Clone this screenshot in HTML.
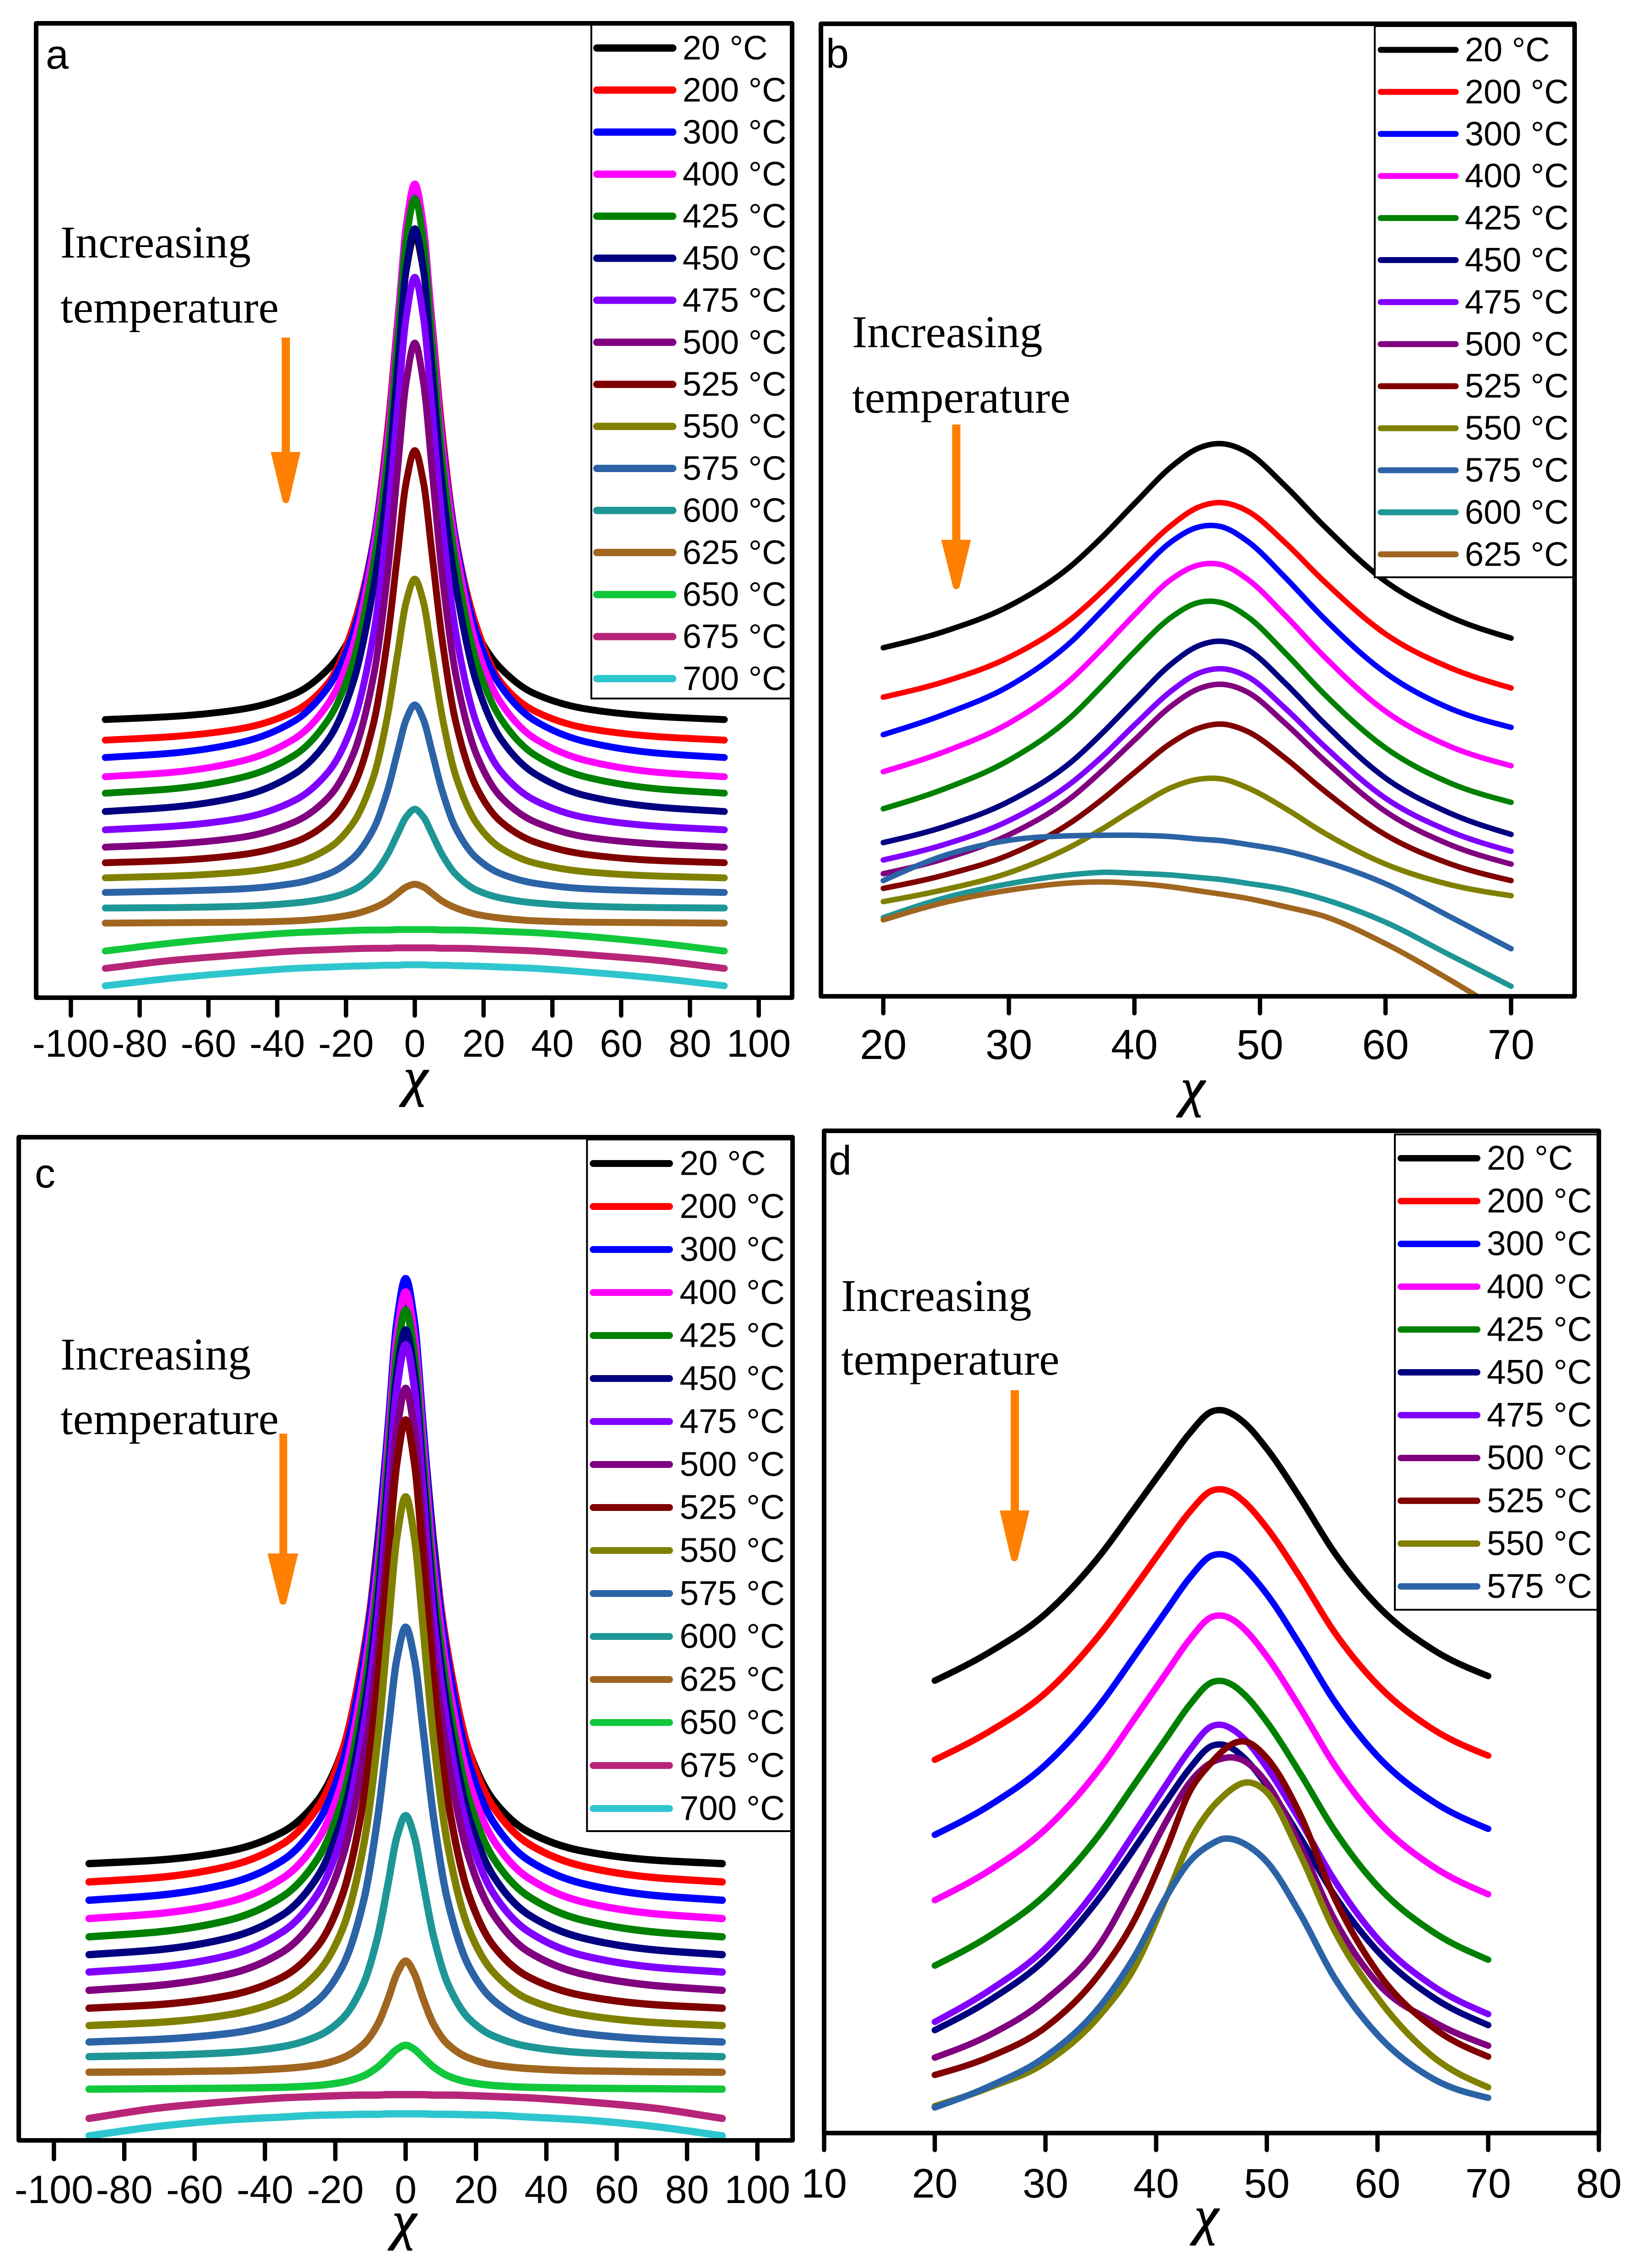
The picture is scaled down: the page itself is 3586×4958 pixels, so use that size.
<!DOCTYPE html>
<html lang="en">
<head>
<meta charset="utf-8">
<title>Rocking curves at increasing temperature</title>
<style>
html,body{margin:0;padding:0;background:#fff;}
svg{display:block;}
text{font-family:"Liberation Sans",sans-serif;fill:#000;}
.note{font-family:"Liberation Serif",serif;font-size:100px;}
.chi{font-family:"Liberation Serif",serif;font-style:italic;font-size:118px;text-anchor:middle;stroke:#000;stroke-width:2px;}
.letter{font-size:90px;}
</style>
</head>
<body>
<svg id="figure" xmlns="http://www.w3.org/2000/svg" width="3586" height="4958" viewBox="0 0 3586 4958">
  <rect x="0" y="0" width="3586" height="4958" fill="#fff"/>
  <g id="panel-a"></g>
  <g id="panel-b"></g>
  <g id="panel-c"></g>
  <g id="panel-d"></g>
  <g>
    <text class="letter" x="100" y="150">a</text>
    <text class="note" x="132" y="563">Increasing</text>
    <text class="note" x="132" y="705">temperature</text>
    <path fill="#ff8000" d="M616 738H634V988H657L632 1096Q625 1104 618 1096L592 988H616Z"/>
    <text class="chi" x="909" y="2394">χ</text>
  </g>
  <g>
    <text class="letter" x="1806" y="148">b</text>
    <text class="note" x="1863" y="759">Increasing</text>
    <text class="note" x="1863" y="902">temperature</text>
    <path fill="#ff8000" d="M2082 928H2100V1180H2123L2098 1284Q2091 1292 2084 1284L2058 1180H2082Z"/>
    <text class="chi" x="2608" y="2417">χ</text>
  </g>
  <g>
    <text class="letter" x="76" y="2596">c</text>
    <text class="note" x="132" y="2994">Increasing</text>
    <text class="note" x="132" y="3135">temperature</text>
    <path fill="#ff8000" d="M611 3134H628V3396H652L626 3504Q619 3512 612 3504L585 3396H611Z"/>
    <text class="chi" x="884" y="4894">χ</text>
  </g>
  <g>
    <text class="letter" x="1812" y="2568">d</text>
    <text class="note" x="1839" y="2866">Increasing</text>
    <text class="note" x="1839" y="3005">temperature</text>
    <path fill="#ff8000" d="M2210 3039H2228V3302H2251L2225 3409Q2218 3417 2211 3409L2186 3302H2210Z"/>
    <text class="chi" x="2638" y="4883">χ</text>
  </g>
</svg>
<script>
/* Shared categories and colours */
const temperatureLabels = ["20 °C","200 °C","300 °C","400 °C","425 °C","450 °C","475 °C","500 °C","525 °C","550 °C","575 °C","600 °C","625 °C","650 °C","675 °C","700 °C"];
const seriesColors = ["#000000","#ff0000","#0000ff","#ff00ff","#008000","#000080","#8000ff","#800080","#800000","#808000","#2b63a6","#1f9696","#a0661f","#11c83c","#b72579","#2ec6ce"];

/* Tick labels */
const aTicks = [-100,-80,-60,-40,-20,0,20,40,60,80,100];
const bTicks = [20,30,40,50,60,70];
const cTicks = [-100,-80,-60,-40,-20,0,20,40,60,80,100];
const dTicks = [10,20,30,40,50,60,70,80];

/* Panel a: chi positions and intensities (a.u.) */
const aChi = [-90,-70,-50,-35,-25,-18,-12,-8,-5,-2.5,0,2.5,5,8,12,18,25,35,50,70,90];
const a20  = [60.8,61.5,63.1,66.4,72.0,80.0,97.0,119.6,141.5,159.0,166.7,159.0,141.5,119.6,97.0,80.0,72.0,66.4,63.1,61.5,60.8];
const a200 = [56.3,57.1,58.9,62.6,69.0,81.0,100.0,123.5,147.9,167.7,176.5,167.7,147.9,123.5,100.0,81.0,69.0,62.6,58.9,57.1,56.3];
const a300 = [52.5,53.5,55.9,60.5,68.1,79.5,99.5,121.8,147.1,168.3,177.0,168.3,147.1,121.8,99.5,79.5,68.1,60.5,55.9,53.5,52.5];
const a400 = [48.3,49.3,51.8,56.6,64.5,76.8,98.2,120.9,146.8,168.8,177.9,168.8,146.8,120.9,98.2,76.8,64.5,56.6,51.8,49.3,48.3];
const a425 = [44.7,45.7,48.2,53.0,61.0,73.3,94.8,117.5,143.5,165.6,174.7,165.6,143.5,117.5,94.8,73.3,61.0,53.0,48.2,45.7,44.7];
const a450 = [40.7,41.7,44.1,48.9,56.6,68.7,89.7,112.0,137.5,159.2,168.1,159.2,137.5,112.0,89.7,68.7,56.6,48.9,44.1,41.7,40.7];
const a475 = [36.7,37.5,39.3,43.1,49.5,59.9,79.5,103.7,128.7,148.7,157.5,148.7,128.7,103.7,79.5,59.9,49.5,43.1,39.3,37.5,36.7];
const a500 = [32.9,33.6,35.1,38.4,43.9,53.0,70.3,92.2,115.6,134.6,143.1,134.6,115.6,92.2,70.3,53.0,43.9,38.4,35.1,33.6,32.9];
const a525 = [29.5,30.0,31.3,34.0,38.5,45.9,60.0,78.0,97.1,112.7,119.6,112.7,97.1,78.0,60.0,45.9,38.5,34.0,31.3,30.0,29.5];
const a550 = [26.2,26.6,27.5,29.4,32.7,38.1,48.3,61.3,75.2,86.5,91.5,86.5,75.2,61.3,48.3,38.1,32.7,29.4,27.5,26.6,26.2];
const a575 = [23.0,23.3,23.8,25.0,27.1,30.5,36.9,45.1,53.8,60.8,64.0,60.8,53.8,45.1,36.9,30.5,27.1,25.0,23.8,23.3,23.0];
const a600 = [19.6,19.7,20.0,20.7,21.8,23.5,26.9,31.2,35.8,39.5,41.2,39.5,35.8,31.2,26.9,23.5,21.8,20.7,20.0,19.7,19.6];
const a625 = [16.3,16.4,16.5,16.8,17.4,18.2,19.6,21.1,22.8,24.2,24.8,24.2,22.8,21.1,19.6,18.2,17.4,16.8,16.5,16.4,16.3];
const a650 = [10.2,12.0,13.4,14.2,14.5,14.7,14.8,14.8,14.9,14.9,14.9,14.9,14.9,14.8,14.8,14.7,14.5,14.2,13.4,12.0,10.2];
const a675 = [6.4,8.2,9.4,10.2,10.5,10.7,10.8,10.8,10.9,10.9,10.9,10.9,10.9,10.8,10.8,10.7,10.5,10.2,9.4,8.2,6.4];
const a700 = [2.6,4.3,5.6,6.4,6.7,6.9,7.0,7.1,7.1,7.2,7.2,7.2,7.1,7.1,7.0,6.9,6.7,6.4,5.6,4.3,2.6];
const aSeries = [a20,a200,a300,a400,a425,a450,a475,a500,a525,a550,a575,a600,a625,a650,a675,a700];

/* Panel b */
const bChi = [20,25,30,35,37.5,40,43,45,47,49,52,55,60,65,70];
const b20  = [76.2,79.9,85.3,94.2,100.6,107.7,115.9,119.7,120.8,118.9,111.6,103.1,90.7,83.1,78.3];
const b200 = [65.4,68.9,74.1,82.6,88.7,95.4,103.1,106.8,107.9,106.1,99.2,91.0,79.2,72.0,67.4];
const b300 = [57.2,61.8,67.8,77.6,84.5,91.6,99.5,102.5,102.6,99.5,91.6,82.9,70.7,63.1,58.8];
const b400 = [49.1,53.6,59.7,69.4,76.2,83.4,91.3,94.2,94.3,91.2,83.3,74.6,62.3,54.8,50.4];
const b425 = [41.0,45.5,51.6,61.2,68.1,75.3,83.0,86.0,86.0,83.0,75.1,66.4,54.3,46.8,42.4];
const b450 = [33.6,37.2,42.6,51.3,57.7,64.7,72.8,76.5,77.6,75.8,68.5,60.0,47.7,40.2,35.4];
const b475 = [29.8,33.3,38.4,46.7,52.6,59.3,66.9,70.5,71.6,69.9,63.0,55.0,43.3,36.2,31.7];
const b500 = [26.8,30.2,35.3,43.5,49.5,56.0,63.6,67.1,68.2,66.5,59.7,51.9,40.4,33.3,28.9];
const b525 = [23.6,26.6,30.9,38.1,43.2,48.9,55.5,58.5,59.5,57.9,52.1,45.2,35.3,29.1,25.3];
const b550 = [20.7,23.4,27.0,32.8,36.7,41.0,45.7,47.4,47.5,45.6,41.1,35.9,28.9,24.5,22.0];
const b575 = [25.3,30.9,34.1,35.1,35.2,35.2,34.9,34.4,34.0,33.2,31.8,29.6,24.6,17.6,10.4];
const b600 = [17.2,21.6,24.6,26.6,27.1,26.9,26.5,26.0,25.5,24.7,23.4,21.3,16.2,9.2,2.2];
const b625 = [16.7,20.6,23.2,24.8,25.0,24.7,23.9,23.1,22.3,21.4,19.6,17.6,11.5,3.8,-4.6];
const bSeries = [b20,b200,b300,b400,b425,b450,b475,b500,b525,b550,b575,b600,b625];

/* Panel c */
const cChi = [-90,-70,-50,-35,-25,-18,-12,-8,-5,-2.5,0,2.5,5,8,12,18,25,35,50,70,90];
const c20  = [60.5,61.3,63.3,67.4,74.3,85.2,105.6,130.3,155.2,174.7,183.0,174.7,155.2,130.3,105.6,85.2,74.3,67.4,63.3,61.3,60.5];
const c200 = [56.5,57.5,60.0,64.8,72.8,85.1,106.5,129.3,155.3,177.4,186.5,177.4,155.3,129.3,106.5,85.1,72.8,64.8,60.0,57.5,56.5];
const c300 = [52.5,53.6,56.2,61.2,69.5,82.4,104.8,128.6,155.8,178.9,188.4,178.9,155.8,128.6,104.8,82.4,69.5,61.2,56.2,53.6,52.5];
const c400 = [48.5,49.6,52.2,57.3,65.6,78.6,101.2,125.2,152.6,175.9,185.5,175.9,152.6,125.2,101.2,78.6,65.6,57.3,52.2,49.6,48.5];
const c425 = [44.5,45.6,48.2,53.3,61.6,74.6,97.2,121.2,148.6,171.9,181.5,171.9,148.6,121.2,97.2,74.6,61.6,53.3,48.2,45.6,44.5];
const c450 = [40.6,41.7,44.3,49.3,57.7,70.7,93.2,117.1,144.4,167.6,177.2,167.6,144.4,117.1,93.2,70.7,57.7,49.3,44.3,41.7,40.6];
const c475 = [36.8,37.9,40.5,45.6,53.9,67.0,89.6,113.6,141.0,164.3,173.9,164.3,141.0,113.6,89.6,67.0,53.9,45.6,40.5,37.9,36.8];
const c500 = [32.8,33.9,36.4,41.2,49.3,61.8,83.5,106.5,132.8,155.2,164.4,155.2,132.8,106.5,83.5,61.8,49.3,41.2,36.4,33.9,32.8];
const c525 = [28.9,29.7,31.7,35.7,42.5,53.6,74.4,100.3,126.9,148.1,157.5,148.1,126.9,100.3,74.4,53.6,42.5,35.7,31.7,29.7,28.9];
const c550 = [25.1,25.8,27.5,30.8,36.7,46.1,64.3,87.3,111.8,131.8,140.7,131.8,111.8,87.3,64.3,46.1,36.7,30.8,27.5,25.8,25.1];
const c575 = [21.5,22.1,23.4,26.0,30.6,38.0,52.2,70.3,89.5,105.2,112.2,105.2,89.5,70.3,52.2,38.0,30.6,26.0,23.4,22.1,21.5];
const c600 = [18.3,18.6,19.2,20.5,22.8,26.6,34.2,44.4,56.1,66.3,71.0,66.3,56.1,44.4,34.2,26.6,22.8,20.5,19.2,18.6,18.3];
const c625 = [14.9,15.0,15.2,15.7,16.5,18.0,21.0,25.3,30.9,36.4,39.2,36.4,30.9,25.3,21.0,18.0,16.5,15.7,15.2,15.0,14.9];
const c650 = [11.2,11.3,11.4,11.6,12.0,12.7,14.1,16.0,18.1,19.9,20.8,19.9,18.1,16.0,14.1,12.7,12.0,11.6,11.4,11.3,11.2];
const c675 = [4.8,7.1,8.5,9.3,9.6,9.8,9.9,9.9,10.0,10.0,10.0,10.0,10.0,9.9,9.9,9.8,9.6,9.3,8.5,7.1,4.8];
const c700 = [1.0,3.1,4.5,5.1,5.5,5.6,5.7,5.7,5.8,5.8,5.8,5.8,5.8,5.7,5.7,5.6,5.5,5.1,4.5,3.1,1.0];
const cSeries = [c20,c200,c300,c400,c425,c450,c475,c500,c525,c550,c575,c600,c625,c650,c675,c700];

/* Panel d */
const dChi = [20,25,30,35,38,41,43,45,46,47,48,50,53,56,60,65,70];
const d20  = [98.9,105.2,113.5,126.5,136.4,146.4,152.9,157.7,158.0,157.0,155.2,149.6,138.9,127.3,115.3,105.7,99.9];
const d200 = [81.6,87.9,96.2,109.3,119.1,129.2,135.7,140.4,140.7,139.8,137.9,132.3,121.6,109.9,98.0,88.3,82.5];
const d300 = [65.2,71.7,80.5,93.9,104.1,114.5,121.3,126.2,126.5,125.6,123.5,117.8,106.7,94.8,82.4,72.5,66.5];
const d400 = [50.9,57.5,66.4,80.0,90.4,100.9,107.8,112.8,113.1,112.1,110.1,104.2,93.0,80.9,68.3,58.3,52.2];
const d425 = [36.6,43.2,52.1,65.7,76.1,86.6,93.5,98.5,98.8,97.8,95.8,89.9,78.7,66.6,54.0,44.0,37.9];
const d450 = [22.5,29.1,38.0,51.8,62.1,72.8,79.6,84.6,84.9,83.9,81.9,76.0,64.7,52.4,39.8,29.7,23.6];
const d475 = [24.3,31.3,40.4,54.7,65.5,76.5,83.6,88.9,89.2,88.1,86.1,79.9,68.3,55.7,42.5,32.2,26.0];
const d500 = [16.5,21.5,29.1,41.6,54.5,68.5,76.5,81.0,81.9,82.1,81.3,76.5,63.0,47.2,32.8,24.4,19.1];
const d525 = [12.7,16.7,23.1,35.2,46.4,62.5,74.5,81.0,83.5,85.2,85.6,82.0,69.7,52.0,35.2,23.1,16.7];
const d550 = [5.9,10.0,15.4,26.0,36.0,52.0,63.5,71.0,73.5,75.5,76.6,74.5,61.0,44.8,29.6,16.7,10.0];
const d575 = [5.6,10.3,16.7,27.9,38.4,52.0,59.3,63.2,64.3,64.2,63.2,59.3,48.0,34.4,21.5,11.9,7.7];
const dSeries = [d20,d200,d300,d400,d425,d450,d475,d500,d525,d550,d575];

const SVG_NS = "http://www.w3.org/2000/svg";

function make(tag, attrs, parent) {
  const el = document.createElementNS(SVG_NS, tag);
  Object.keys(attrs).forEach(function (k) { el.setAttribute(k, attrs[k]); });
  parent.appendChild(el);
  return el;
}

function linearScale(d0, d1, r0, r1) {
  return function (v) { return r0 + (v - d0) * (r1 - r0) / (d1 - d0); };
}

/* Cubic through the data points: monotone tangents for the sharp peaks,
   three-point tangents for the broad curves */
function smoothPath(px, py, monotone) {
  const n = px.length;
  const slope = [];
  for (let i = 0; i < n - 1; i++) slope.push((py[i + 1] - py[i]) / (px[i + 1] - px[i]));
  const tan = [0];
  for (let i = 1; i < n - 1; i++) {
    const h0 = px[i] - px[i - 1], h1 = px[i + 1] - px[i];
    if (monotone) {
      if (slope[i - 1] * slope[i] <= 0) { tan.push(0); continue; }
      const w1 = 2 * h1 + h0, w2 = h1 + 2 * h0;
      tan.push((w1 + w2) / (w1 / slope[i - 1] + w2 / slope[i]));
    } else {
      tan.push((h1 * slope[i - 1] + h0 * slope[i]) / (h0 + h1));
    }
  }
  tan.push(0);
  if (monotone) {
    tan[0] = slope[0];
    tan[n - 1] = slope[n - 2];
  } else {
    tan[0] = 1.5 * slope[0] - 0.5 * tan[1];
    tan[n - 1] = 1.5 * slope[n - 2] - 0.5 * tan[n - 2];
  }
  let d = "M" + px[0].toFixed(1) + " " + py[0].toFixed(1);
  for (let i = 0; i < n - 1; i++) {
    const h = (px[i + 1] - px[i]) / 3;
    d += "C" + (px[i] + h).toFixed(1) + " " + (py[i] + tan[i] * h).toFixed(1) + " " +
         (px[i + 1] - h).toFixed(1) + " " + (py[i + 1] - tan[i + 1] * h).toFixed(1) + " " +
         px[i + 1].toFixed(1) + " " + py[i + 1].toFixed(1);
  }
  return d;
}

function drawPanel(id, chi, series, ticks, p) {
  const root = document.getElementById("panel-" + id);
  const x = linearScale(p.xDomain[0], p.xDomain[1], p.left, p.right);
  const y = linearScale(p.yDomain[0], p.yDomain[1], p.bottom, p.top);

  const defs = make("defs", {}, root);
  const clip = make("clipPath", { id: "clip-" + id }, defs);
  make("rect", { x: p.left, y: p.top, width: p.right - p.left, height: p.bottom - p.top }, clip);

  const curves = make("g", { "clip-path": "url(#clip-" + id + ")", fill: "none", "stroke-linecap": "round", "stroke-linejoin": "round" }, root);
  
  
  series.forEach(function (values, i) {
    const path = make("path", {
      d: smoothPath(chi.map(x), values.map(y), p.monotone),
      stroke: seriesColors[i],
      "stroke-width": p.curveWidth
    }, curves);
    
    
  });

  const legend = make("g", {}, root);
  
  
  const box = make("rect", {
    x: p.legendLeft, y: p.legendTop, width: p.right - p.legendLeft, height: p.legendBottom - p.legendTop,
    fill: "#fff", stroke: "#000", "stroke-width": 4
  }, legend);
  
  
  series.forEach(function (values, i) {
    const rowY = p.rowTop + p.rowStep * i;
    const swatch = make("line", {
      x1: p.swatchLeft, x2: p.swatchRight, y1: rowY, y2: rowY,
      stroke: seriesColors[i], "stroke-width": p.swatchWidth, "stroke-linecap": "round"
    }, legend);
    
    
    const label = make("text", { x: p.legendTextX, y: rowY + 25, "font-size": p.legendFont }, legend);
    
    
    label.textContent = temperatureLabels[i];
  });

  const frame = make("rect", {
    x: p.left, y: p.top, width: p.right - p.left, height: p.bottom - p.top,
    fill: "none", stroke: "#000", "stroke-width": 10, "stroke-linejoin": "round"
  }, root);
  
  

  const axis = make("g", {}, root);
  
  
  ticks.forEach(function (t) {
    const tick = make("line", {
      x1: x(t), x2: x(t), y1: p.bottom, y2: p.tickEnd - 4,
      stroke: "#000", "stroke-width": 9.5, "stroke-linecap": "round"
    }, axis);
    
    
    const label = make("text", { x: x(t), y: p.labelBaseline, "font-size": p.tickFont, "text-anchor": "middle" }, axis);
    
    
    label.textContent = String(t);
  });
}

drawPanel("a", aChi, aSeries, aTicks, {
  monotone: true,
  left: 79, right: 1732, top: 51, bottom: 2181, xDomain: [-110.1, 109.7], yDomain: [0, 213],
  curveWidth: 15, tickEnd: 2224, labelBaseline: 2310, tickFont: 84,
  legendLeft: 1293, legendTop: 51, legendBottom: 1527, rowTop: 105, rowStep: 91.9,
  swatchLeft: 1305, swatchRight: 1471, swatchWidth: 16, legendTextX: 1492.5, legendFont: 74
});
drawPanel("b", bChi, bSeries, bTicks, {
  monotone: false,
  left: 1795, right: 3443, top: 52, bottom: 2178, xDomain: [15.03, 75.06], yDomain: [0, 212.6],
  curveWidth: 12, tickEnd: 2219, labelBaseline: 2315, tickFont: 92,
  legendLeft: 3006, legendTop: 57, legendBottom: 1262, rowTop: 109, rowStep: 91.9,
  swatchLeft: 3019, swatchRight: 3183, swatchWidth: 13, legendTextX: 3203, legendFont: 74
});
drawPanel("c", cChi, cSeries, cTicks, {
  monotone: true,
  left: 41, right: 1733, top: 2486, bottom: 4679, xDomain: [-110, 110], yDomain: [0, 219.3],
  curveWidth: 16, tickEnd: 4724, labelBaseline: 4816, tickFont: 86,
  legendLeft: 1283.5, legendTop: 2491, legendBottom: 4003, rowTop: 2543.5, rowStep: 94,
  swatchLeft: 1297, swatchRight: 1464, swatchWidth: 15, legendTextX: 1486, legendFont: 75
});
drawPanel("d", dChi, dSeries, dTicks, {
  monotone: false,
  left: 1802, right: 3496, top: 2472, bottom: 4663, xDomain: [10, 80], yDomain: [0, 219.1],
  curveWidth: 14, tickEnd: 4704, labelBaseline: 4804, tickFont: 90,
  legendLeft: 3050, legendTop: 2480, legendBottom: 3519, rowTop: 2532, rowStep: 93.6,
  swatchLeft: 3063, swatchRight: 3230, swatchWidth: 14, legendTextX: 3251, legendFont: 75
});
</script>
</body>
</html>
